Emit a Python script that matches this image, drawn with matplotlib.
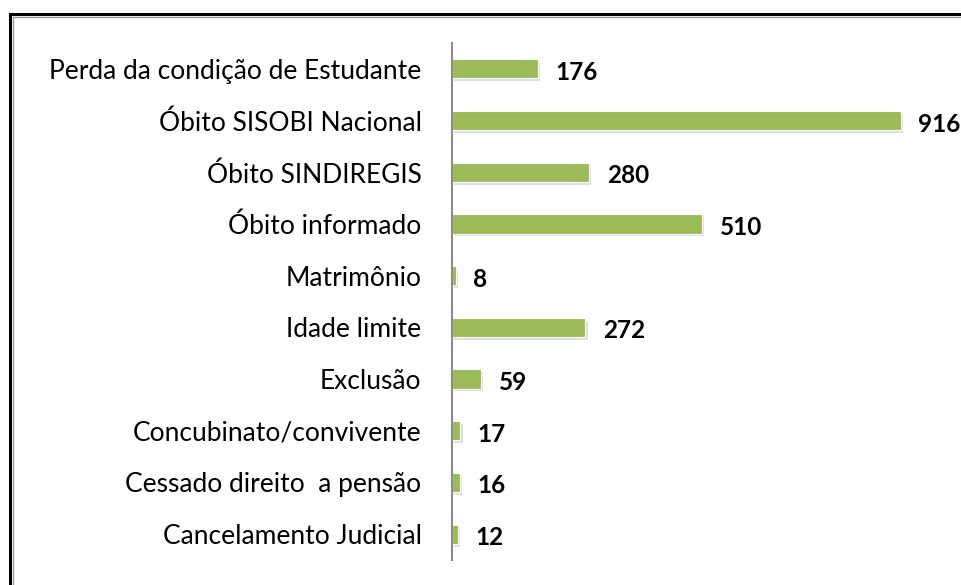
import matplotlib.pyplot as plt
import matplotlib.patheffects as pe
from matplotlib.lines import Line2D

categorias = ['Perda da condição de Estudante', 'Óbito SISOBI Nacional', 'Óbito SINDIREGIS',
              'Óbito informado', 'Matrimônio', 'Idade limite', 'Exclusão',
              'Concubinato/convivente', 'Cessado direito  a pensão', 'Cancelamento Judicial']
valores = [176, 916, 280, 510, 8, 272, 59, 17, 16, 12]

plt.rcParams['font.family'] = ['Lato', 'DejaVu Sans']

fig = plt.figure(figsize=(9.61, 5.85), dpi=100)
ax = fig.add_axes([0.4705, 0.0427, 0.51, 0.8838])

y = list(range(len(categorias)))[::-1]
barras = ax.barh(y, valores, height=0.37, color='#9BBB59', edgecolor='white', linewidth=0.8)
for b in barras:
    b.set_path_effects([pe.SimplePatchShadow(offset=(1.5, -2), shadow_rgbFace='#aaaaaa', alpha=0.4),
                        pe.Normal()])

for yi, v in zip(y, valores):
    ax.annotate(str(v), (v, yi), xytext=(12.5, -2.5), textcoords='offset points',
                va='center', ha='left', fontsize=17.5, fontweight='bold', color='black')

ax.set_yticks(y)
ax.set_yticklabels(categorias, fontsize=19)
ax.tick_params(axis='y', length=0, pad=22)
ax.set_xticks([])
ax.set_xlim(0, 1000)
ax.set_ylim(-0.5, 9.5)
for s in ['top', 'right', 'bottom']:
    ax.spines[s].set_visible(False)
ax.spines['left'].set_color('#8c8c8c')
ax.spines['left'].set_linewidth(1.5)

# moldura dupla
fig.add_artist(Line2D([9.5/961, 1], [1 - 13.5/585, 1 - 13.5/585], color='black', lw=2.2))
fig.add_artist(Line2D([9.5/961, 9.5/961], [0, 1 - 13.5/585], color='black', lw=2.2))
fig.add_artist(Line2D([12.5/961, 1], [1 - 16.5/585, 1 - 16.5/585], color='#9a9a9a', lw=1))
fig.add_artist(Line2D([12.5/961, 12.5/961], [0, 1 - 16.5/585], color='#9a9a9a', lw=1))

fig.savefig('out.png', dpi=100)
